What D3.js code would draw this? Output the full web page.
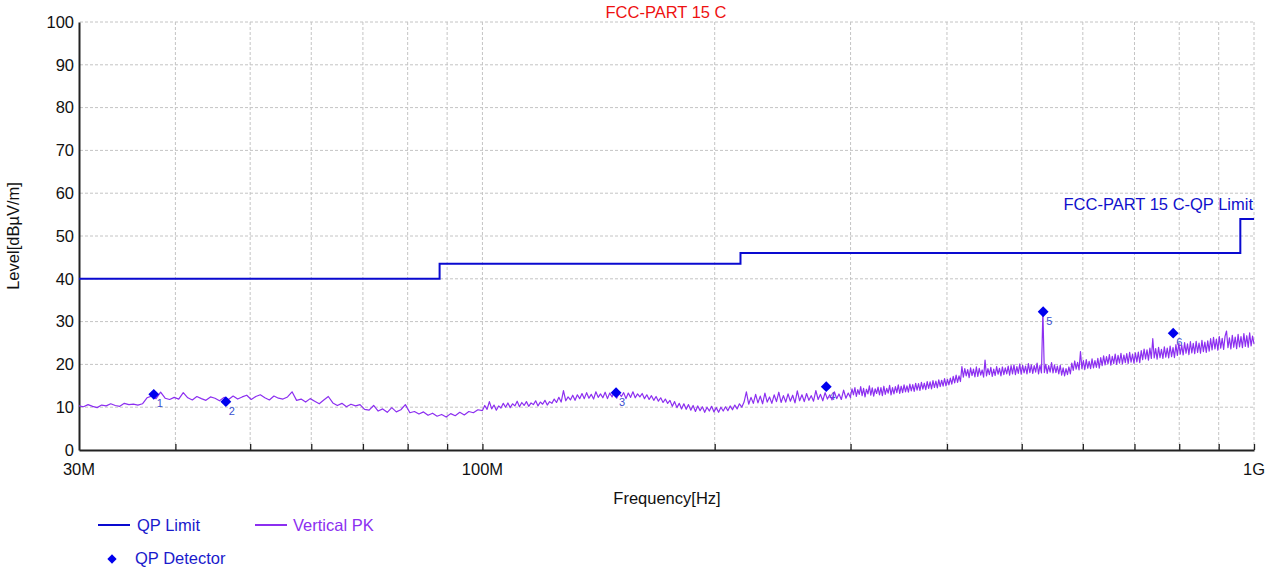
<!DOCTYPE html>
<html>
<head>
<meta charset="utf-8">
<script src="https://cdn.jsdelivr.net/npm/d3@7"></script>
<style>
  body { margin: 0; background: #fff; }
  svg { display: block; font-family: "Liberation Sans", Arial, sans-serif; }
</style>
</head>
<body>
<svg id="chart" width="1266" height="567"></svg>
<script>
// limit line (MHz / dBuV/m)
const limitStart = [30, 88, 216, 960];
const limitStop = [88, 216, 960, 1000];
const limitLevel = [40, 43.5, 46, 54];

// QP detector points
const qpFreq = [37.5, 46.5, 149.0, 279.0, 533.0, 785.7];
const qpLevel = [13.0, 11.3, 13.4, 14.8, 32.3, 27.3];
const qpLabel = ["1", "2", "3", "4", "5", "6"];

// vertical PK trace, read in three sweep pieces
const pkA = [10.3, 10.1, 10.6, 10.2, 9.9, 10.5, 10.3, 10.8, 10.4, 10.2, 10.9, 10.6, 10.7, 10.5, 10.8,
  12.2, 12.6,
  12.0, 13.5, 12.1, 11.8, 12.3, 11.9, 13.4, 12.2, 11.7, 12.5, 12.0, 11.6, 12.4, 12.1, 11.5, 12.3, 11.8,
  12.6, 11.9, 12.4, 12.8, 11.8, 12.5, 12.9, 12.2, 11.7, 12.6, 12.1, 11.9, 12.4, 13.6, 11.6,
  11.9, 11.2, 12.0, 11.4, 10.8, 11.7, 12.5,
  11.0, 10.4, 10.9, 10.1, 10.7, 10.3, 10.6,
  9.5, 9.3, 10.4, 9.1, 9.6, 8.8, 9.9, 8.9, 9.4, 10.6, 8.7,
  9.0, 8.4, 8.9, 8.1, 8.6, 7.9, 8.3, 7.7, 8.5, 8.0, 8.8, 8.2, 9.0,
  8.7, 9.4, 9.2];
const pkB = [9.2, 10.4, 9.5, 11.3, 9.6, 10.5, 9.3, 10.3,
  9.8, 10.9, 10.0, 11.0, 9.9, 10.8, 10.3, 11.4, 10.1, 11.1, 10.4, 11.3, 10.2, 11.0, 10.6, 11.5, 10.3, 11.2, 10.7, 11.6, 10.5, 11.3,
  10.9, 11.9, 11.1, 12.3, 11.2, 13.9, 11.5, 12.4, 11.7, 12.8, 11.6, 12.9, 12.0,
  13.2, 12.0, 13.4, 12.1, 13.0, 11.9, 13.6, 12.3, 13.1, 12.2, 13.5, 12.0, 13.3, 12.4, 13.7, 12.1, 13.2, 12.5, 13.4, 12.0, 13.3, 12.3, 13.6, 12.2, 13.1, 12.4,
  13.2, 12.0, 12.9, 11.8, 12.7, 11.6, 12.5, 11.4, 12.2, 11.1, 11.9, 10.9, 11.6,
  10.2, 11.3, 9.9, 10.9, 9.6, 10.8, 9.5, 10.6, 9.3, 10.4, 9.0, 10.3, 9.2, 10.1, 8.8, 10.0, 9.1, 10.2, 8.9, 9.9, 8.8, 10.0,
  9.1, 10.1, 9.2, 10.3, 9.4, 10.5, 9.6, 10.8, 10.0,
  11.2, 13.6, 10.7, 12.3, 10.9, 13.0, 11.0, 12.6, 10.8, 13.3, 11.2, 12.4, 10.9, 12.9, 11.3, 13.5, 11.1,
  12.7, 11.2, 13.1, 11.4, 12.8, 11.0, 13.8, 11.5, 12.9, 11.3, 13.2, 11.6, 12.7, 11.4, 13.9, 11.8, 13.0, 11.5, 13.4, 11.9,
  12.9, 11.7, 13.6, 12.0, 13.1, 11.8, 14.0, 12.1, 13.3, 12.2];
const pkC = [12.6, 14.3, 12.9, 14.6, 12.5, 14.1, 13.0, 14.8, 12.7, 14.4, 12.4, 14.2, 13.1, 15.0, 12.8, 14.5, 12.6, 14.3,
  13.2, 14.7, 12.9, 14.6, 12.7, 14.9, 13.0, 14.4, 13.3, 15.1, 12.9, 14.6, 13.1, 14.8, 13.4, 15.2, 13.2,
  14.9, 13.4, 15.2, 13.6, 15.0, 13.5, 15.4, 13.8, 15.3, 13.7, 15.6, 14.0, 15.5, 13.9, 15.8, 14.2, 15.6, 14.1,
  16.0, 14.4, 15.9, 14.3, 16.2, 14.6, 16.1, 14.5, 16.4, 14.8, 16.3, 14.9, 16.7, 15.0, 16.5, 15.2, 16.8,
  15.4, 17.2, 15.7, 17.5, 15.8, 17.3, 16.0, 19.5,
  17.0, 19.0, 17.3, 18.8, 16.9, 19.2, 17.4, 18.9, 17.1, 19.4, 17.2, 19.1, 17.5, 18.7, 17.0, 21.0, 17.3,
  19.0, 17.6, 19.3, 17.2, 18.9, 17.4, 19.5, 17.7, 19.1, 17.3, 19.4, 17.6, 19.2, 17.8, 19.6, 17.5,
  19.7, 17.8, 19.9, 17.6, 19.5, 17.9, 20.1, 17.7, 19.8, 18.0, 19.6, 17.8, 20.2, 18.1, 19.9, 17.9, 19.7, 18.2,
  20.3, 17.8, 19.8, 18.0, 32.3, 18.1, 20.0, 17.9, 19.7, 18.2, 20.4, 18.0, 19.9, 18.1, 19.6, 17.8, 19.8,
  17.5, 19.2, 17.3, 19.0, 17.6, 19.4, 17.8,
  20.3, 18.6, 20.8, 18.9, 20.5, 18.7, 23.0, 19.0, 20.9, 18.8, 21.1, 19.1, 20.7, 19.0, 21.3, 19.2, 20.9, 19.3, 21.4, 19.1,
  21.6, 19.7, 22.0, 19.9, 21.8, 20.1, 22.3, 19.8, 21.9, 20.2, 22.4, 20.0, 22.1, 20.3, 22.6, 20.1, 22.2, 20.4,
  22.5, 20.2, 22.8, 20.5, 22.4, 20.3, 22.7, 20.6, 22.9, 20.4,
  23.2, 21.1, 23.6, 21.3, 23.4, 21.0, 23.8, 21.4, 26.0, 21.5, 23.7, 21.2, 24.0, 21.6, 23.5, 21.4, 24.1, 21.7,
  23.8, 21.5, 24.3, 21.8, 23.9, 21.6,
  24.6, 22.1, 24.9, 22.4, 24.5, 22.2, 25.1, 22.6, 24.8, 22.3, 25.3, 22.7, 24.9, 22.5, 25.4, 22.8, 25.0, 22.6,
  25.6, 23.0, 25.2, 22.8, 25.5, 23.1,
  26.0, 23.4, 26.3, 23.6, 25.9, 23.3, 26.5, 23.8, 26.1, 23.5, 26.6, 27.8, 23.9, 26.2, 23.6, 26.8, 24.0, 26.4,
  23.7, 27.0, 24.1, 26.5, 23.9, 27.2, 24.2, 26.7, 24.0, 27.4, 24.3, 26.6, 24.8];
const pkSweeps = [[30, 100, pkA], [100, 300, pkB], [300, 1000, pkC]];

const gridFreq = [40, 50, 60, 70, 80, 90, 100, 200, 300, 400, 500, 600, 700, 800, 900, 1000];
const xLabels = [[30, "30M"], [100, "100M"], [1000, "1G"]];
const yTicks = [0, 10, 20, 30, 40, 50, 60, 70, 80, 90, 100];

const svg = d3.select("#chart");
const x = d3.scaleLog().domain([30, 1000]).range([79, 1254]);
const y = d3.scaleLinear().domain([0, 100]).range([450, 22]);

// grid
svg.append("g").selectAll("line").data(yTicks.slice(1)).join("line")
  .attr("x1", 80).attr("x2", 1254).attr("y1", d => y(d)).attr("y2", d => y(d))
  .attr("stroke", "#c4c4c4").attr("stroke-dasharray", "3,2");
svg.append("g").selectAll("line").data(gridFreq).join("line")
  .attr("x1", d => x(d)).attr("x2", d => x(d)).attr("y1", y(100)).attr("y2", y(0))
  .attr("stroke", "#c4c4c4").attr("stroke-dasharray", "3,2");

// axes
const xAxis = svg.append("g").attr("transform", `translate(0,${y(0)})`)
  .call(d3.axisBottom(x).tickValues(gridFreq).tickSizeInner(-6).tickSizeOuter(0).tickFormat(""));
xAxis.select(".domain").attr("stroke", "#222").attr("stroke-width", 2);
xAxis.selectAll(".tick line").attr("stroke", "#222").attr("stroke-width", 1.3);

const yAxis = svg.append("g").attr("transform", `translate(${x(30)},0)`)
  .call(d3.axisLeft(y).tickValues(yTicks).tickSize(0).tickPadding(5));
yAxis.select(".domain").attr("stroke", "#222").attr("stroke-width", 2);
yAxis.selectAll("text").attr("font-size", 16.5).attr("fill", "#111")
  .attr("font-family", "Liberation Sans, Arial, sans-serif");

svg.append("g").selectAll("text").data(xLabels).join("text")
  .attr("x", d => x(d[0])).attr("y", 475).attr("text-anchor", "middle")
  .attr("font-size", 16.5).attr("fill", "#111").text(d => d[1]);

// titles
svg.append("text").attr("x", 666).attr("y", 18).attr("text-anchor", "middle")
  .attr("font-size", 16.5).attr("fill", "#ee1111").text("FCC-PART 15 C");
svg.append("text").attr("x", 667).attr("y", 504).attr("text-anchor", "middle")
  .attr("font-size", 16.5).attr("fill", "#111").text("Frequency[Hz]");
svg.append("text").attr("transform", "translate(19,236) rotate(-90)").attr("text-anchor", "middle")
  .attr("font-size", 16.5).attr("fill", "#111").text("Level[dBµV/m]");

// limit line
const limitPts = [];
limitStart.forEach((f, i) => {
  limitPts.push([f, limitLevel[i]]);
  limitPts.push([limitStop[i], limitLevel[i]]);
});
const line = d3.line().x(d => x(d[0])).y(d => y(d[1]));
svg.append("path").attr("d", line(limitPts)).attr("fill", "none")
  .attr("stroke", "#0a0ad0").attr("stroke-width", 2);
svg.append("text").attr("x", 1253).attr("y", 210).attr("text-anchor", "end")
  .attr("font-size", 16.5).attr("fill", "#1010cc").text("FCC-PART 15 C-QP Limit");

// marker numbers (under trace)
svg.append("g").selectAll("text").data(qpFreq).join("text")
  .attr("x", (d, i) => x(d) + 3).attr("y", (d, i) => y(qpLevel[i]) + 13)
  .attr("font-size", 11).attr("fill", "#3a4fd0").text((d, i) => qpLabel[i]);

// PK trace
const pkPts = [];
pkSweeps.forEach(([f0, f1, vals]) => {
  vals.forEach((v, i) => {
    pkPts.push([f0 * Math.pow(f1 / f0, i / (vals.length - 1)), v]);
  });
});
svg.append("path").attr("d", line(pkPts)).attr("fill", "none")
  .attr("stroke", "#8c2ff0").attr("stroke-width", 1.2).attr("stroke-linejoin", "round");

// QP markers
const diamond = d3.symbol().type(d3.symbolDiamond2).size(75);
svg.append("g").selectAll("path").data(qpFreq).join("path")
  .attr("d", diamond)
  .attr("transform", (d, i) => `translate(${x(d)},${y(qpLevel[i])})`)
  .attr("fill", "#0000ee");

// legend
const lg = svg.append("g");
lg.append("line").attr("x1", 98).attr("x2", 130).attr("y1", 525).attr("y2", 525)
  .attr("stroke", "#0a0ad0").attr("stroke-width", 2);
lg.append("text").attr("x", 137).attr("y", 531).attr("font-size", 16.5).attr("fill", "#1a1acc").text("QP Limit");
lg.append("line").attr("x1", 255).attr("x2", 287).attr("y1", 525).attr("y2", 525)
  .attr("stroke", "#8c2ff0").attr("stroke-width", 2);
lg.append("text").attr("x", 293).attr("y", 531).attr("font-size", 16.5).attr("fill", "#8c2ff0").text("Vertical PK");
lg.append("path").attr("d", d3.symbol().type(d3.symbolDiamond2).size(55))
  .attr("transform", "translate(112,559)").attr("fill", "#0000ee");
lg.append("text").attr("x", 135).attr("y", 564).attr("font-size", 16.5).attr("fill", "#1a1acc").text("QP Detector");
</script>
</body>
</html>
